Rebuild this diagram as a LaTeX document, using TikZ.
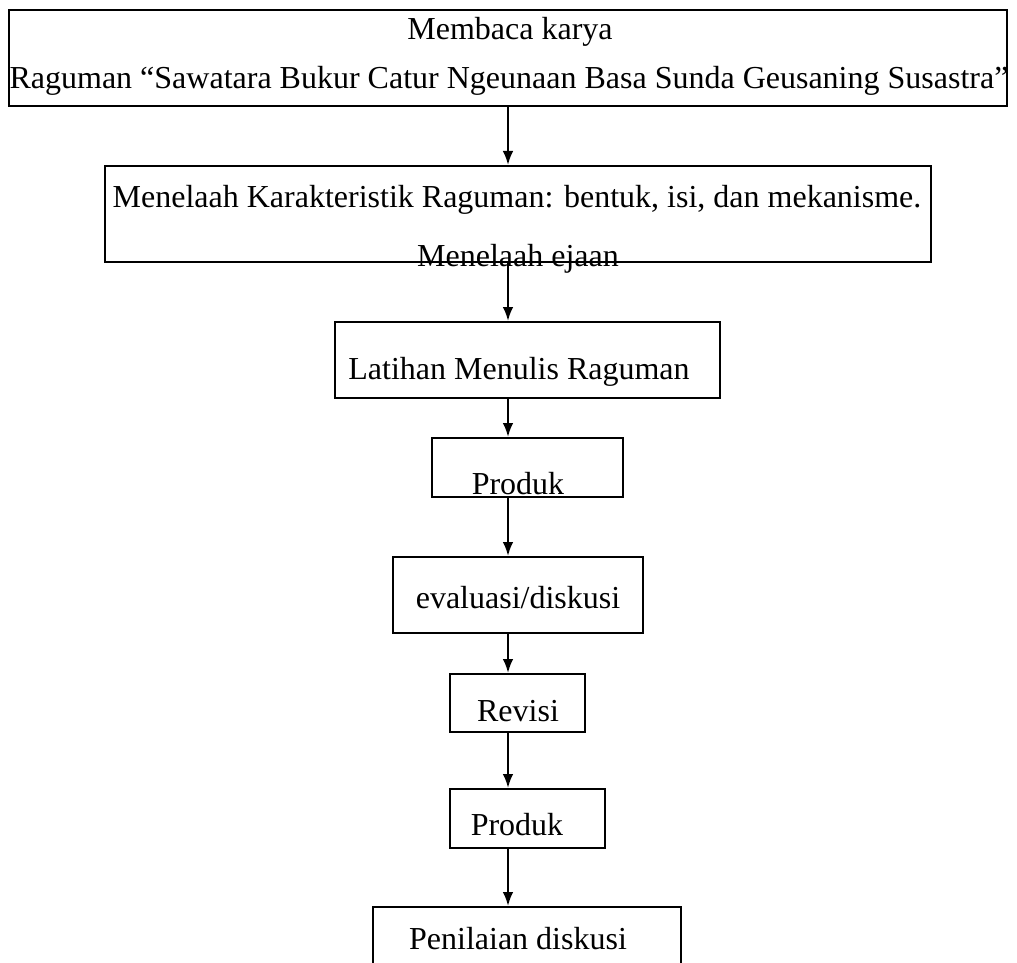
\documentclass[tikz,border=0pt]{standalone}
\usepackage{fontspec}
\setmainfont{Liberation Serif}
\usepackage{tikz}
\usetikzlibrary{arrows.meta}
\tikzset{>={Latex[length=10.5pt,width=8pt]}}
\tikzset{
	box/.style={draw, line width=1.5pt, inner sep=0pt},
	flow/.style={->, line width=1.6pt},
	txt/.style={anchor=base, inner sep=0pt, font=\fontsize{24}{28.8}\selectfont}
}

\begin{document}
\begin{tikzpicture}[x=0.75pt, y=-0.75pt]
		\clip (0,0) rectangle (1017,963);
		% boxes
		\node[box, minimum width=748.5pt, minimum height=72pt] (baca) at (508,58) {};
		\node[box, minimum width=619.5pt, minimum height=72pt] (telaah) at (518,214) {};
		\node[box, minimum width=288.75pt, minimum height=57pt] (latihan) at (527.5,360) {};
		\node[box, minimum width=143.25pt, minimum height=44.25pt] (produk) at (527.5,467.5) {};
		\node[box, minimum width=187.5pt, minimum height=57pt] (evaluasi) at (518,595) {};
		\node[box, minimum width=101.25pt, minimum height=43.5pt] (revisi) at (517.5,703) {};
		\node[box, minimum width=116.25pt, minimum height=44.25pt] (produkb) at (527.5,818.5) {};
		\node[box, minimum width=231pt, minimum height=69.75pt] (penilaian) at (527,953.5) {};
		% texts
		\node[txt] (bacaa) at (510,40) {Membaca karya};
		\node[txt] (bacab) at (509,89) {Raguman “Sawatara Bukur Catur Ngeunaan Basa Sunda Geusaning Susastra”};
		\node[txt] (telaaha) at (517,208) {Menelaah Karakteristik Raguman: bentuk, isi, dan mekanisme.};
		\node[txt] (telaahb) at (518,266) {Menelaah ejaan};
		\node[txt] (latihant) at (519,379) {Latihan Menulis Raguman};
		\node[txt] (produkt) at (518,494) {Produk};
		\node[txt] (evaluasit) at (518,608) {evaluasi/diskusi};
		\node[txt] (revisit) at (518,721) {Revisi};
		\node[txt] (produkbt) at (517,835) {Produk};
		\node[txt] (penilaiant) at (518,949) {Penilaian diskusi};
		% arrows
		\coordinate (ax) at (508,0);
		\draw[flow] (baca.south -| ax) -- (telaah.north -| ax);
		\draw[flow] (telaah.south -| ax) -- (latihan.north -| ax);
		\draw[flow] (latihan.south -| ax) -- (produk.north -| ax);
		\draw[flow] (produk.south -| ax) -- (evaluasi.north -| ax);
		\draw[flow] (evaluasi.south -| ax) -- (revisi.north -| ax);
		\draw[flow] (revisi.south -| ax) -- (produkb.north -| ax);
		\draw[flow] (produkb.south -| ax) -- (penilaian.north -| ax);
	\end{tikzpicture}
\end{document}
